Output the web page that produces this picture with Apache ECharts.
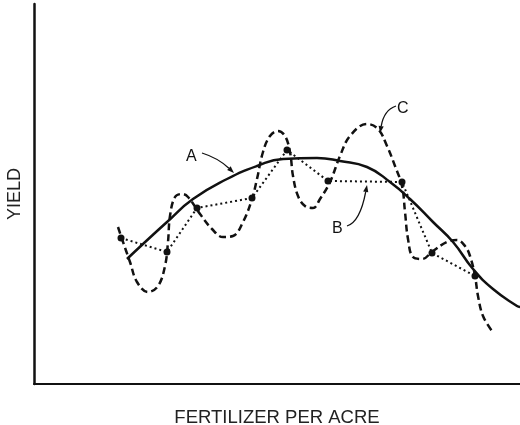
<!DOCTYPE html>
<html>
<head>
<meta charset="utf-8">
<script src="https://cdn.jsdelivr.net/npm/echarts@6/dist/echarts.min.js"></script>
<style>
html,body{margin:0;padding:0;background:#fff;}
#chart{width:520px;height:425px;}
</style>
</head>
<body>
<div id="chart"></div>
<script>
// Curve A: smooth response curve (x = fertilizer, y = yield, arbitrary units)
var curveA = [[93,125],[109,140],[133,162],[159,185],[193,205],[223,218],[249,225],[283,226],[306,223],[333,217],[356,202],[376,185],[399,162],[419,142],[439,115],[459,95],[483,78],[486,77]];
// Curve B: observed points joined by dotted segments
var curveB = [[87,146],[133,132],[163,176],[218,186],[253,234],[294,203],[368,202],[398,131],[441,108]];
// Curve C: wiggly dashed curve through the observations
var curveC = [[84,157],[88,145],[96,122],[103,102],[114,92],[124,98],[131,118],[134,142],[136,168],[141,187],[148,190],[154,187],[166,170],[178,155],[189,147],[199,148],[209,162],[218,185],[223,205],[229,232],[236,248],[244,253],[251,248],[256,232],[259,208],[264,188],[271,178],[279,176],[286,185],[296,202],[306,228],[316,248],[333,260],[344,255],[353,238],[361,218],[368,198],[371,172],[374,145],[379,127],[388,125],[399,133],[413,142],[423,144],[431,138],[436,128],[441,108],[444,88],[449,68],[458,53]];
var xTitle = 'FERTILIZER PER ACRE';
var yTitle = 'YIELD';
var labelNames = ['A','B','C'];

var chart = echarts.init(document.getElementById('chart'), null, {renderer:'canvas'});
var ink = '#111';
var font = '"Liberation Sans", Arial, sans-serif';

function arrow(pts){
  var p0 = pts[0], c = pts[1], p1 = pts[2];
  var dx = p1[0]-c[0], dy = p1[1]-c[1];
  var len = Math.sqrt(dx*dx+dy*dy); dx/=len; dy/=len;
  var L = 7, W = 2.6;
  var bx = p1[0]-dx*L, by = p1[1]-dy*L;
  return [
    {type:'bezierCurve', shape:{x1:p0[0],y1:p0[1],cpx1:c[0],cpy1:c[1],x2:bx,y2:by}, style:{stroke:ink,lineWidth:1.3,fill:null}},
    {type:'polygon', shape:{points:[[p1[0],p1[1]],[bx-dy*W,by+dx*W],[bx+dy*W,by-dx*W]]}, style:{fill:ink}}
  ];
}

var graphics = [
  {type:'text', left:186, top:149, style:{text:labelNames[0], font:'16px '+font, fill:ink}},
  {type:'text', left:332, top:221, style:{text:labelNames[1], font:'16px '+font, fill:ink}},
  {type:'text', left:397, top:101, style:{text:labelNames[2], font:'16px '+font, fill:ink}}
].concat(arrow([[202,153],[218,158],[234,173]]))
 .concat(arrow([[347,226],[360,222],[367,185]]))
 .concat(arrow([[396,106],[384,110],[380,133]]));

chart.setOption({
  animation:false,
  backgroundColor:'#fff',
  grid:{left:34,right:0,top:4,bottom:41,containLabel:false,outerBoundsMode:'none'},
  xAxis:{type:'value',min:0,max:486,
    name:xTitle,nameLocation:'middle',nameGap:24,
    nameTextStyle:{color:'#222',fontSize:18.5,fontFamily:font},
    axisLine:{show:true,lineStyle:{color:ink,width:2}},
    axisTick:{show:false},axisLabel:{show:false},splitLine:{show:false}},
  yAxis:{type:'value',min:0,max:380,
    name:yTitle,nameLocation:'middle',nameGap:10,
    nameTextStyle:{color:'#222',fontSize:18,fontFamily:font},
    axisLine:{show:true,lineStyle:{color:ink,width:2.5}},
    axisTick:{show:false},axisLabel:{show:false},splitLine:{show:false}},
  series:[
    {name:'A',type:'line',data:curveA,smooth:true,showSymbol:false,symbol:'none',
      lineStyle:{color:ink,width:2.5,type:'solid'}},
    {name:'B',type:'line',data:curveB,smooth:false,symbol:'circle',symbolSize:7,
      itemStyle:{color:ink},lineStyle:{color:ink,width:2,type:[2,3]}},
    {name:'C',type:'line',data:curveC,smooth:0.4,showSymbol:false,symbol:'none',
      lineStyle:{color:ink,width:2.5,type:[7,4]}}
  ],
  graphic:graphics
});
</script>
</body>
</html>
